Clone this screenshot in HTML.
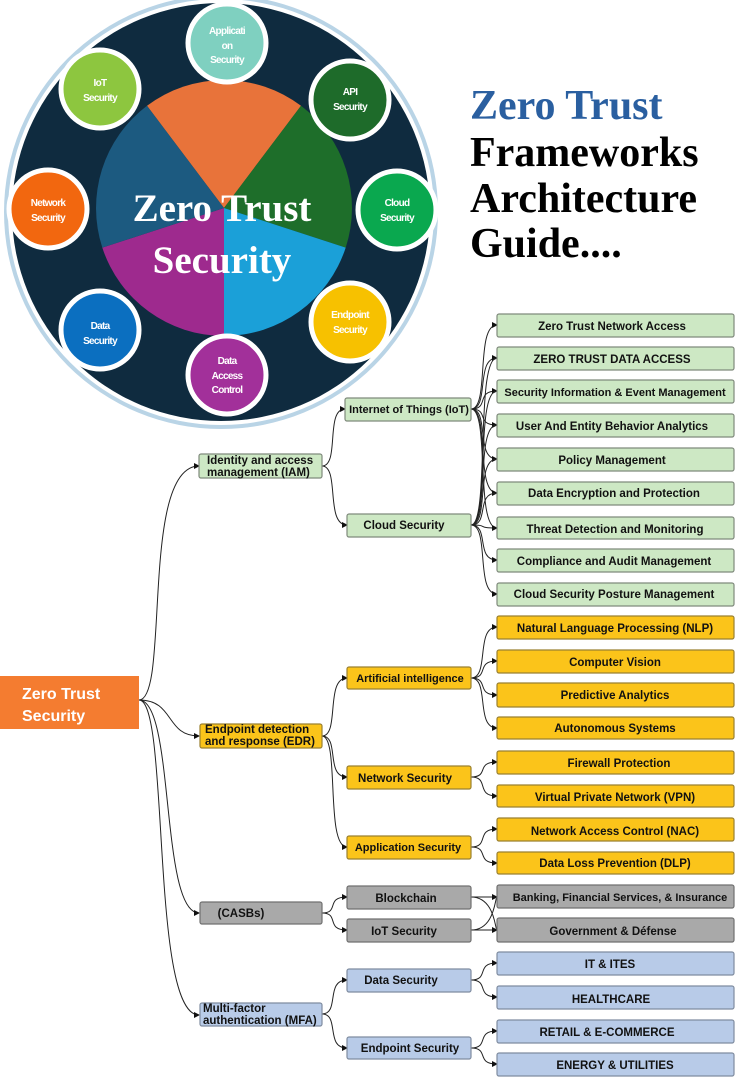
<!DOCTYPE html>
<html><head><meta charset="utf-8"><style>
html,body{margin:0;padding:0;background:#fff;width:748px;height:1080px;overflow:hidden}
svg{display:block}
.b{font-family:"Liberation Sans",sans-serif;font-weight:bold;font-size:11.5px;fill:#111}
.c{font-family:"Liberation Sans",sans-serif;font-weight:bold;font-size:10px;fill:#fff;letter-spacing:-0.7px}
.t{font-family:"Liberation Serif",serif;font-weight:bold;font-size:42px}
path.l{fill:none;stroke:#222;stroke-width:1}
</style></head><body>
<svg width="748" height="1080" viewBox="0 0 748 1080" xmlns="http://www.w3.org/2000/svg">
<defs>
<marker id="a" markerWidth="6" markerHeight="6" refX="5" refY="3" orient="auto" markerUnits="userSpaceOnUse"><path d="M0,0 L6,3 L0,6z" fill="#111"/></marker>
</defs>
<circle cx="221" cy="212" r="217" fill="#b9d4e6"/>
<circle cx="221" cy="212" r="213" fill="#fff"/>
<circle cx="221" cy="212" r="209" fill="#0f2b3f"/>
<path d="M224,208 L147,105.8 A128,128 0 0 1 301,105.8Z" fill="#e8733a"/>
<path d="M224,208 L301,105.8 A128,128 0 0 1 345.7,247.6Z" fill="#1e6e2a"/>
<path d="M224,208 L345.7,247.6 A128,128 0 0 1 224,336Z" fill="#1ba0d8"/>
<path d="M224,208 L224,336 A128,128 0 0 1 102.3,247.6Z" fill="#9e2a8e"/>
<path d="M224,208 L102.3,247.6 A128,128 0 0 1 147,105.8Z" fill="#1c5a80"/>
<text x="222" y="221" text-anchor="middle" font-family="Liberation Serif,serif" font-weight="bold" font-size="39" fill="#fff">Zero Trust</text>
<text x="222" y="273" text-anchor="middle" font-family="Liberation Serif,serif" font-weight="bold" font-size="39" fill="#fff">Security</text>
<g stroke="#fff" stroke-width="5">
<circle cx="227" cy="43" r="39" fill="#7fd0c0"/>
<circle cx="100" cy="89" r="39" fill="#8dc63f"/>
<circle cx="350" cy="100" r="39" fill="#1e6b2a"/>
<circle cx="397" cy="210" r="39" fill="#0aa84f"/>
<circle cx="48" cy="209" r="39" fill="#f2670f"/>
<circle cx="350" cy="322" r="39" fill="#f7c100"/>
<circle cx="100" cy="330" r="39" fill="#0b6fc0"/>
<circle cx="227" cy="375" r="39" fill="#a2309a"/>
</g>
<g class="c" text-anchor="middle">
<text x="227" y="34">Applicati</text><text x="227" y="49">on</text><text x="227" y="63">Security</text>
<text x="100" y="86">IoT</text><text x="100" y="101">Security</text>
<text x="350" y="95">API</text><text x="350" y="110">Security</text>
<text x="397" y="206">Cloud</text><text x="397" y="221">Security</text>
<text x="48" y="206">Network</text><text x="48" y="221">Security</text>
<text x="350" y="318">Endpoint</text><text x="350" y="333">Security</text>
<text x="100" y="329">Data</text><text x="100" y="344">Security</text>
<text x="227" y="364">Data</text><text x="227" y="379">Access</text><text x="227" y="393">Control</text>
</g>
<text class="t" x="470" y="119" fill="#2a5fa0">Zero Trust</text>
<text class="t" x="470" y="166" fill="#000">Frameworks</text>
<text class="t" x="470" y="212" fill="#000">Architecture</text>
<text class="t" x="470" y="257" fill="#000">Guide....</text>

<g>
<path class="l" marker-end="url(#a)" d="M139,700 C170,700 140,466 199,466"/>
<path class="l" marker-end="url(#a)" d="M139,700 C175,700 165,736 199,736"/>
<path class="l" marker-end="url(#a)" d="M139,700 C175,700 160,913 199,913"/>
<path class="l" marker-end="url(#a)" d="M139,700 C170,700 150,1015 199,1015"/>
<path class="l" marker-end="url(#a)" d="M322,466 C340,466 325,409 345,409"/>
<path class="l" marker-end="url(#a)" d="M322,466 C340,466 325,525 347,525"/>
<path class="l" marker-end="url(#a)" d="M471,409 C490,409 475,325 497,325"/>
<path class="l" marker-end="url(#a)" d="M471,409 C490,409 475,358 497,358"/>
<path class="l" marker-end="url(#a)" d="M471,409 C490,409 475,391 497,391"/>
<path class="l" marker-end="url(#a)" d="M471,409 C490,409 475,425 497,425"/>
<path class="l" marker-end="url(#a)" d="M471,409 C490,409 475,459 497,459"/>
<path class="l" marker-end="url(#a)" d="M471,409 C490,409 475,493 497,493"/>
<path class="l" d="M471,409 C490,409 475,528 497,528"/>
<path class="l" d="M471,525 C490,525 475,358 497,358"/>
<path class="l" d="M471,525 C490,525 475,391 497,391"/>
<path class="l" d="M471,525 C490,525 475,425 497,425"/>
<path class="l" d="M471,525 C490,525 475,459 497,459"/>
<path class="l" d="M471,525 C490,525 475,493 497,493"/>
<path class="l" marker-end="url(#a)" d="M471,525 C490,525 475,528 497,528"/>
<path class="l" marker-end="url(#a)" d="M471,525 C490,525 475,560 497,560"/>
<path class="l" marker-end="url(#a)" d="M471,525 C490,525 475,594 497,594"/>
<path class="l" marker-end="url(#a)" d="M322,736 C340,736 325,678 347,678"/>
<path class="l" marker-end="url(#a)" d="M322,736 C340,736 325,777 347,777"/>
<path class="l" marker-end="url(#a)" d="M322,736 C340,736 325,847 347,847"/>
<path class="l" marker-end="url(#a)" d="M471,678 C490,678 475,627 497,627"/>
<path class="l" marker-end="url(#a)" d="M471,678 C490,678 475,661 497,661"/>
<path class="l" marker-end="url(#a)" d="M471,678 C490,678 475,695 497,695"/>
<path class="l" marker-end="url(#a)" d="M471,678 C490,678 475,728 497,728"/>
<path class="l" marker-end="url(#a)" d="M471,777 C490,777 475,762 497,762"/>
<path class="l" marker-end="url(#a)" d="M471,777 C490,777 475,796 497,796"/>
<path class="l" marker-end="url(#a)" d="M471,847 C490,847 475,829 497,829"/>
<path class="l" marker-end="url(#a)" d="M471,847 C490,847 475,863 497,863"/>
<path class="l" marker-end="url(#a)" d="M322,913 C340,913 325,897 347,897"/>
<path class="l" marker-end="url(#a)" d="M322,913 C340,913 325,930 347,930"/>
<path class="l" marker-end="url(#a)" d="M471,897 L497,897"/>
<path class="l" d="M471,897 C495,897 495,930 497,930"/>
<path class="l" d="M471,930 C495,930 495,897 497,897"/>
<path class="l" marker-end="url(#a)" d="M471,930 L497,930"/>
<path class="l" marker-end="url(#a)" d="M322,1014 C340,1014 325,980 347,980"/>
<path class="l" marker-end="url(#a)" d="M322,1014 C340,1014 325,1048 347,1048"/>
<path class="l" marker-end="url(#a)" d="M471,980 C490,980 475,963 497,963"/>
<path class="l" marker-end="url(#a)" d="M471,980 C490,980 475,997 497,997"/>
<path class="l" marker-end="url(#a)" d="M471,1048 C490,1048 475,1031 497,1031"/>
<path class="l" marker-end="url(#a)" d="M471,1048 C490,1048 475,1064 497,1064"/>
</g>

<rect x="0" y="676" width="139" height="53" fill="#f47c30"/>
<text x="22" y="699" font-family="Liberation Sans,sans-serif" font-weight="bold" font-size="16" fill="#fff">Zero Trust</text>
<text x="22" y="721" font-family="Liberation Sans,sans-serif" font-weight="bold" font-size="16" fill="#fff">Security</text>

<g stroke="#7f8a7c" stroke-width="1.2">
<g fill="#cde8c4">
<rect x="497" y="314" width="237" height="23" rx="2"/>
<rect x="497" y="347" width="237" height="23" rx="2"/>
<rect x="497" y="380" width="237" height="23" rx="2"/>
<rect x="497" y="414" width="237" height="23" rx="2"/>
<rect x="497" y="448" width="237" height="23" rx="2"/>
<rect x="497" y="482" width="237" height="23" rx="2"/>
<rect x="497" y="517" width="237" height="22" rx="2"/>
<rect x="497" y="549" width="237" height="23" rx="2"/>
<rect x="497" y="583" width="237" height="23" rx="2"/>
<rect x="345" y="398" width="126" height="23" rx="2"/>
<rect x="347" y="514" width="124" height="23" rx="2"/>
<rect x="199" y="454" width="123" height="24" rx="2"/>
</g>
<g fill="#fbc41a" stroke="#9a8030">
<rect x="497" y="616" width="237" height="23" rx="2"/>
<rect x="497" y="650" width="237" height="23" rx="2"/>
<rect x="497" y="683" width="237" height="24" rx="2"/>
<rect x="497" y="717" width="237" height="22" rx="2"/>
<rect x="497" y="751" width="237" height="23" rx="2"/>
<rect x="497" y="785" width="237" height="22" rx="2"/>
<rect x="497" y="818" width="237" height="23" rx="2"/>
<rect x="497" y="852" width="237" height="22" rx="2"/>
<rect x="347" y="667" width="124" height="22" rx="2"/>
<rect x="347" y="766" width="124" height="23" rx="2"/>
<rect x="347" y="836" width="124" height="23" rx="2"/>
<rect x="200" y="724" width="122" height="24" rx="2"/>
</g>
<g fill="#a9a9a9" stroke="#707070">
<rect x="497" y="885" width="237" height="23" rx="2"/>
<rect x="497" y="918" width="237" height="24" rx="2"/>
<rect x="347" y="886" width="124" height="23" rx="2"/>
<rect x="347" y="919" width="124" height="23" rx="2"/>
<rect x="200" y="902" width="122" height="22" rx="2"/>
</g>
<g fill="#b8cbe8" stroke="#7f8ca0">
<rect x="497" y="952" width="237" height="23" rx="2"/>
<rect x="497" y="986" width="237" height="23" rx="2"/>
<rect x="497" y="1020" width="237" height="23" rx="2"/>
<rect x="497" y="1053" width="237" height="23" rx="2"/>
<rect x="347" y="969" width="124" height="23" rx="2"/>
<rect x="347" y="1037" width="124" height="22" rx="2"/>
<rect x="200" y="1003" width="122" height="23" rx="2"/>
</g>
</g>

<g class="b" text-anchor="middle">
<text x="612" y="330">Zero Trust Network Access</text>
<text x="612" y="363">ZERO TRUST DATA ACCESS</text>
<text x="615" y="396" font-size="11">Security Information &amp; Event Management</text>
<text x="612" y="430">User And Entity Behavior Analytics</text>
<text x="612" y="464">Policy Management</text>
<text x="614" y="497">Data Encryption and Protection</text>
<text x="615" y="533">Threat Detection and Monitoring</text>
<text x="614" y="565">Compliance and Audit Management</text>
<text x="614" y="598">Cloud Security Posture Management</text>
<text x="409" y="413" font-size="11">Internet of Things (IoT)</text>
<text x="404" y="529">Cloud Security</text>
<text x="615" y="632">Natural Language Processing (NLP)</text>
<text x="615" y="666">Computer Vision</text>
<text x="615" y="699">Predictive Analytics</text>
<text x="615" y="732">Autonomous Systems</text>
<text x="619" y="767">Firewall Protection</text>
<text x="615" y="801">Virtual Private Network (VPN)</text>
<text x="615" y="835">Network Access Control (NAC)</text>
<text x="615" y="867">Data Loss Prevention (DLP)</text>
<text x="410" y="682" font-size="11">Artificial intelligence</text>
<text x="405" y="782">Network Security</text>
<text x="408" y="851" font-size="11">Application Security</text>
<text x="620" y="901" font-size="11">Banking, Financial Services, &amp; Insurance</text>
<text x="613" y="935">Government &amp; Défense</text>
<text x="406" y="902">Blockchain</text>
<text x="404" y="935">IoT Security</text>
<text x="241" y="917">(CASBs)</text>
<text x="610" y="968">IT &amp; ITES</text>
<text x="611" y="1003">HEALTHCARE</text>
<text x="607" y="1036">RETAIL &amp; E-COMMERCE</text>
<text x="615" y="1069">ENERGY &amp; UTILITIES</text>
<text x="401" y="984">Data Security</text>
<text x="410" y="1052">Endpoint Security</text>
</g>
<g class="b" font-size="11">
<text x="207" y="464">Identity and access</text>
<text x="207" y="476">management (IAM)</text>
<text x="205" y="733">Endpoint detection</text>
<text x="205" y="745">and response (EDR)</text>
<text x="203" y="1012">Multi-factor</text>
<text x="203" y="1024">authentication (MFA)</text>
</g>
</svg>
</body></html>
